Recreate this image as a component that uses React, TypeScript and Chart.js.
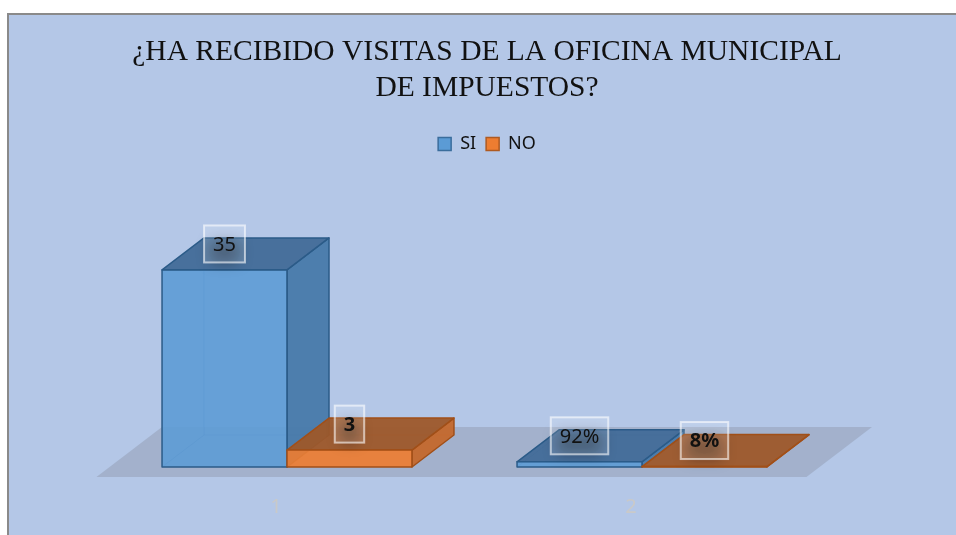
import React, { useEffect, useRef } from "react";
import { Chart, registerables } from "chart.js";

Chart.register(...registerables);

const titleLines = ["¿HA RECIBIDO VISITAS DE LA OFICINA MUNICIPAL", "DE IMPUESTOS?"];
const categories = ["1", "2"];
const seriesNames = ["SI", "NO"];
const siValues = [35, 0.92];
const noValues = [3, 0.08];
const siLabels = ["35", "92%"];
const noLabels = ["3", "8%"];

const DX = 42;
const DY = -32;

const faceStyles = [
  { front: "rgba(91,155,213,0.88)", side: "rgba(72,122,170,0.95)", top: "rgba(66,108,152,0.95)", stroke: "#2b5b88", hidden: "rgba(43,91,136,0.35)", bold: false },
  { front: "rgba(237,125,49,0.92)", side: "rgba(196,104,44,0.95)", top: "rgba(158,88,42,0.95)", stroke: "#a14f18", hidden: "rgba(161,79,24,0.35)", bold: true },
];

const bar3d = {
  id: "bar3d",
  beforeDatasetsDraw(chart: any) {
    const ctx = chart.ctx;
    const { left, right } = chart.chartArea;
    const base = chart.scales.y.getPixelForValue(0);
    ctx.save();
    // floor
    const f0 = -0.31, f1 = 1.25;
    ctx.beginPath();
    ctx.moveTo(left + f0 * DX, base + f0 * DY);
    ctx.lineTo(right + f0 * DX, base + f0 * DY);
    ctx.lineTo(right + f1 * DX, base + f1 * DY);
    ctx.lineTo(left + f1 * DX, base + f1 * DY);
    ctx.closePath();
    ctx.fillStyle = "rgba(120,122,135,0.28)";
    ctx.fill();

    const n = chart.data.labels.length;
    for (let i = 0; i < n; i++) {
      chart.data.datasets.forEach((ds: any, di: number) => {
        const meta = chart.getDatasetMeta(di);
        const el: any = meta.data[i];
        const st = faceStyles[di];
        const x0 = el.x - el.width / 2;
        const x1 = el.x + el.width / 2;
        const t = el.y;
        const b = el.base;
        ctx.lineJoin = "round";
        // hidden edges
        ctx.strokeStyle = st.hidden;
        ctx.lineWidth = 1;
        ctx.beginPath();
        ctx.moveTo(x0, b);
        ctx.lineTo(x0 + DX, b + DY);
        ctx.lineTo(x1 + DX, b + DY);
        ctx.moveTo(x0 + DX, b + DY);
        ctx.lineTo(x0 + DX, t + DY);
        ctx.stroke();
        // side
        ctx.beginPath();
        ctx.moveTo(x1, b);
        ctx.lineTo(x1 + DX, b + DY);
        ctx.lineTo(x1 + DX, t + DY);
        ctx.lineTo(x1, t);
        ctx.closePath();
        ctx.fillStyle = st.side;
        ctx.fill();
        ctx.strokeStyle = st.stroke;
        ctx.lineWidth = 1.5;
        ctx.stroke();
        // top
        ctx.beginPath();
        ctx.moveTo(x0, t);
        ctx.lineTo(x0 + DX, t + DY);
        ctx.lineTo(x1 + DX, t + DY);
        ctx.lineTo(x1, t);
        ctx.closePath();
        ctx.fillStyle = st.top;
        ctx.fill();
        ctx.stroke();
        // front
        ctx.beginPath();
        ctx.rect(x0, t, x1 - x0, b - t);
        ctx.fillStyle = st.front;
        ctx.fill();
        ctx.stroke();
      });
    }
    ctx.restore();
    return false;
  },
  afterDraw(chart: any) {
    const ctx = chart.ctx;
    const labelSets = [siLabels, noLabels];
    ctx.save();
    chart.data.datasets.forEach((ds: any, di: number) => {
      const meta = chart.getDatasetMeta(di);
      meta.data.forEach((el: any, i: number) => {
        const txt = labelSets[di][i];
        ctx.font = (faceStyles[di].bold ? "bold " : "") + "20px 'Noto Sans'";
        const w = ctx.measureText(txt).width + 18;
        const h = 37;
        const cx = el.x;
        const cy = el.y - 26;
        // soft shadow
        ctx.save();
        ctx.shadowColor = "rgba(0,0,0,0.35)";
        ctx.shadowBlur = 14;
        ctx.shadowOffsetX = 10000;
        ctx.shadowOffsetY = 8;
        ctx.fillStyle = "rgba(0,0,0,1)";
        ctx.fillRect(cx - w / 2 + 6 - 10000, cy - h / 2 + 8, w - 12, h - 16);
        ctx.restore();
        ctx.fillStyle = "rgba(255,255,255,0.14)";
        ctx.fillRect(cx - w / 2, cy - h / 2, w, h);
        ctx.strokeStyle = "rgba(255,255,255,0.6)";
        ctx.lineWidth = 2;
        ctx.strokeRect(cx - w / 2, cy - h / 2, w, h);
        ctx.fillStyle = "#111";
        ctx.textAlign = "center";
        ctx.textBaseline = "middle";
        ctx.fillText(txt, cx, cy + 1);
      });
    });
    ctx.restore();
  },
};

export default function App() {
  const ref = useRef<HTMLCanvasElement | null>(null);
  useEffect(() => {
    if (!ref.current) return;
    const chart = new Chart(ref.current, {
      type: "bar",
      data: {
        labels: categories,
        datasets: [
          { label: seriesNames[0], data: siValues, backgroundColor: "#5b9bd5", borderColor: "#3a6d9c", borderWidth: 1.5 },
          { label: seriesNames[1], data: noValues, backgroundColor: "#ed7d31", borderColor: "#ae5a21", borderWidth: 1.5 },
        ],
      },
      options: {
        responsive: false,
        animation: false,
        devicePixelRatio: 1,
        datasets: { bar: { barPercentage: 1, categoryPercentage: 0.704 } },
        layout: { padding: { left: 100.5, right: 100.5, top: 0, bottom: 0 } },
        plugins: {
          title: {
            display: true,
            text: titleLines,
            color: "#111",
            font: { family: "'Liberation Serif'", size: 29.5, weight: "normal", lineHeight: 1.22 },
            padding: { top: 19, bottom: 19 },
          },
          legend: {
            display: true,
            position: "top",
            labels: {
              color: "#111",
              font: { family: "'Noto Sans'", size: 18 },
              boxWidth: 13,
              boxHeight: 13,
              padding: 10,
            },
          },
          tooltip: { enabled: false },
        },
        scales: {
          x: {
            grid: { display: false, drawTicks: false },
            border: { display: false },
            ticks: { color: "#c9c9c9", font: { family: "'Noto Sans'", size: 20 }, padding: 28, labelOffset: -11 },
          },
          y: {
            display: true,
            position: "right",
            min: 0,
            max: 54,
            grid: { display: false, drawTicks: false },
            border: { display: false },
            ticks: { display: false },
            afterFit: (scale: any) => {
              scale.width = 45;
            },
          },
        },
      },
      plugins: [bar3d],
    });
    return () => chart.destroy();
  }, []);
  return (
    <div style={{ position: "fixed", left: 0, top: 0, width: 956, height: 535, overflow: "hidden", background: "#fff" }}>
      <div
        style={{
          position: "absolute",
          left: 7,
          top: 13,
          width: 960,
          height: 540,
          borderLeft: "2px solid #8a8a8a",
          borderTop: "2px solid #8a8a8a",
          background: "#b4c7e7",
        }}
      >
        <canvas ref={ref} width={956} height={532} style={{ display: "block", width: 956, height: 532 }} />
      </div>
    </div>
  );
}
